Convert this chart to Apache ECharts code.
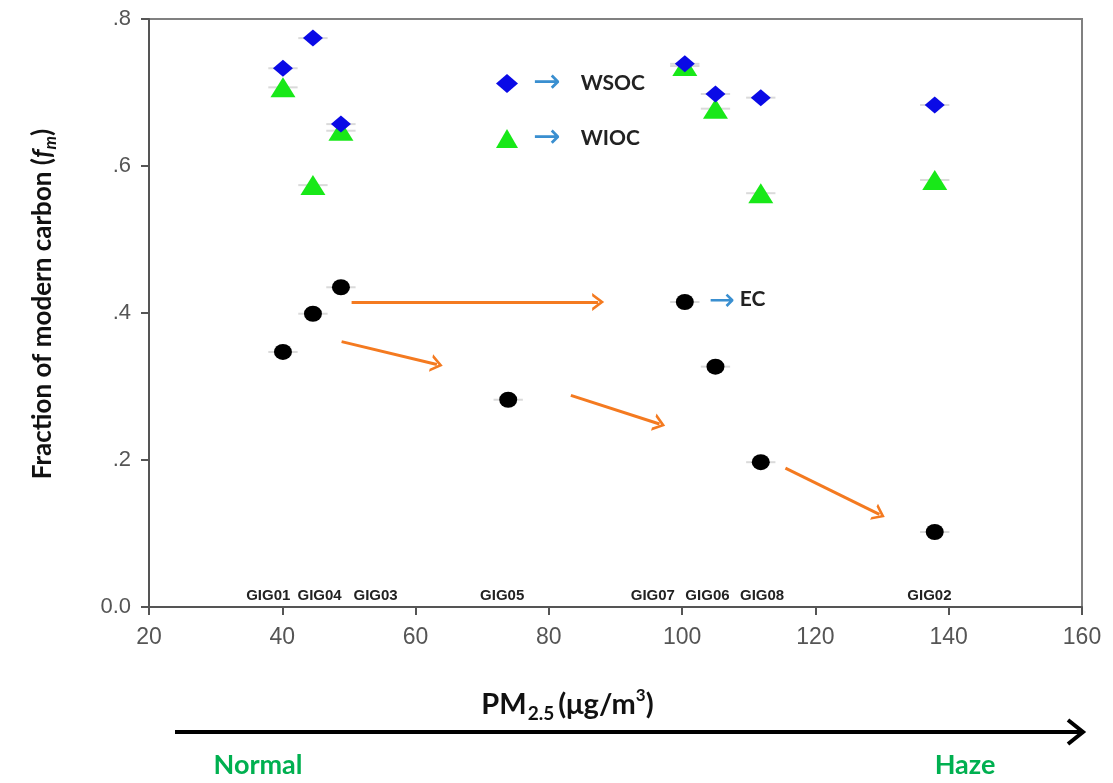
<!DOCTYPE html>
<html>
<head>
<meta charset="utf-8">
<script src="https://cdn.jsdelivr.net/npm/echarts@6/dist/echarts.min.js"></script>
<style>
  html, body { margin: 0; padding: 0; background: #fff; }
  #main { width: 1113px; height: 783px; }
</style>
</head>
<body>
<div id="main"></div>
<script>
// samples, ordered by PM2.5
var sampleNames = ['GIG01', 'GIG04', 'GIG03', 'GIG05', 'GIG07', 'GIG06', 'GIG08', 'GIG02'];
var pm25 = [40.1, 44.6, 48.8, 73.9, 100.4, 105.0, 111.8, 137.9];
var labelX = [37.9, 45.6, 54.0, 73.0, 95.6, 103.8, 112.0, 137.1];

// fraction of modern carbon
var wsoc = [0.733, 0.774, 0.657, null, 0.739, 0.698, 0.693, 0.683];
var wioc = [0.707, 0.574, 0.648, null, 0.736, 0.678, 0.563, 0.581];
var ec = [0.347, 0.399, 0.435, 0.282, 0.415, 0.327, 0.197, 0.102];
var pmErr = 2.2;

// orange trend arrows [start, end]
var trendArrows = [
    [[50.4, 0.415], [87.4, 0.415]],
    [[48.9, 0.361], [63.2, 0.330]],
    [[83.3, 0.288], [96.6, 0.249]],
    [[115.5, 0.189], [129.6, 0.126]]
];

var chevron = 'path://M0,10 L5,0 L10,10 L8.2,10 L5,3.6 L1.8,10 Z';

function pairs(vals) {
    var out = [];
    for (var i = 0; i < pm25.length; i++) {
        if (vals[i] != null) out.push([pm25[i], vals[i]]);
    }
    return out;
}

var errData = [];
[wsoc, wioc, ec].forEach(function (vals) {
    pairs(vals).forEach(function (p) { errData.push([p[0], p[1], pmErr]); });
});

var ecData = pairs(ec).map(function (p, i) {
    if (sampleNames[i] !== 'GIG07') return p;
    return {
        value: p,
        label: {
            show: true,
            position: 'right',
            distance: 15,
            formatter: '{a|→}{b|EC}',
            rich: {
                a: { fontFamily: 'DejaVu Sans', fontSize: 31, color: '#3a8fd0', padding: [0, 5, 0, 0], lineHeight: 24 },
                b: { fontFamily: 'Lato', fontWeight: 'bold', fontSize: 21, color: '#222', padding: [0, 0, 6, 0], lineHeight: 24 }
            }
        }
    };
});

var chart = echarts.init(document.getElementById('main'));

var option = {
    animation: false,
    grid: {
        left: 149, right: 31, top: 19, bottom: 176,
        show: true, borderColor: '#808080', borderWidth: 2
    },
    legend: {
        data: ['WSOC', 'WIOC'],
        orient: 'vertical',
        left: 496, top: 67,
        padding: 0,
        itemWidth: 22, itemHeight: 19,
        itemGap: 22,
        formatter: function (name) { return '{a|→}{b|' + name + '}'; },
        textStyle: {
            rich: {
                a: { fontFamily: 'DejaVu Sans', fontSize: 33, color: '#3a8fd0', padding: [0, 20, 0, 10], lineHeight: 19 },
                b: { fontFamily: 'Lato', fontWeight: 'bold', fontSize: 21, color: '#222', lineHeight: 19 }
            }
        }
    },
    xAxis: {
        type: 'value', min: 20, max: 160, interval: 20,
        name: '{m|PM}{s|2.5}{m|(μg/m}{p|3}{m|)}',
        nameLocation: 'middle',
        nameGap: 80,
        nameTextStyle: {
            padding: [0, 96, 0, 0],
            rich: {
                m: { fontFamily: 'Lato', fontWeight: 'bold', fontSize: 29, color: '#111', lineHeight: 36 },
                s: { fontFamily: 'Lato', fontWeight: 'bold', fontSize: 19, color: '#111', lineHeight: 18, verticalAlign: 'bottom', padding: [0, 4, 0, 1] },
                p: { fontFamily: 'Lato', fontWeight: 'bold', fontSize: 17, color: '#111', lineHeight: 18, verticalAlign: 'top' }
            }
        },
        axisLine: { lineStyle: { color: '#555', width: 2 } },
        axisTick: { length: 8, lineStyle: { color: '#555', width: 2 } },
        axisLabel: { fontFamily: 'Liberation Sans', fontSize: 23, color: '#555', margin: 19 },
        splitLine: { show: false }
    },
    yAxis: {
        type: 'value', min: 0, max: 0.8, interval: 0.2,
        name: '{m|Fraction of modern carbon (}{i|f}{s|m}{m|)}',
        nameLocation: 'middle',
        nameRotate: 90,
        nameGap: 90,
        nameTextStyle: {
            padding: [0, 0, 0, 18],
            rich: {
                m: { fontFamily: 'Lato', fontWeight: 'bold', fontSize: 26, color: '#111', lineHeight: 32 },
                i: { fontFamily: 'Lato', fontWeight: 'bold', fontStyle: 'italic', fontSize: 26, color: '#111', lineHeight: 32 },
                s: { fontFamily: 'Lato', fontWeight: 'bold', fontStyle: 'italic', fontSize: 17, color: '#111', lineHeight: 17, verticalAlign: 'bottom' }
            }
        },
        axisLine: { show: true, lineStyle: { color: '#555', width: 2 } },
        axisTick: { show: true, length: 8, lineStyle: { color: '#555', width: 2 } },
        axisLabel: {
            fontFamily: 'Liberation Sans', fontSize: 22, color: '#555', margin: 18,
            formatter: function (v) { return v === 0 ? '0.0' : '.' + Math.round(v * 10); }
        },
        splitLine: { show: false }
    },
    series: [
        {
            name: 'err',
            type: 'custom',
            z: 1,
            silent: true,
            encode: { x: 0, y: 1 },
            data: errData,
            renderItem: function (params, api) {
                var x = api.value(0), y = api.value(1), e = api.value(2);
                var a = api.coord([x - e, y]), b = api.coord([x + e, y]);
                return {
                    type: 'line',
                    shape: { x1: a[0], y1: a[1], x2: b[0], y2: b[1] },
                    style: { stroke: '#dadada', lineWidth: 2 }
                };
            }
        },
        {
            name: 'WIOC',
            type: 'scatter',
            z: 3,
            symbol: 'triangle',
            symbolSize: [25, 20],
            itemStyle: { color: '#18e818', opacity: 1 },
            data: pairs(wioc)
        },
        {
            name: 'WSOC',
            type: 'scatter',
            z: 4,
            symbol: 'diamond',
            symbolSize: [20, 17],
            itemStyle: { color: '#0a0ae6', opacity: 1 },
            data: pairs(wsoc)
        },
        {
            name: 'EC',
            type: 'scatter',
            z: 4,
            symbol: 'circle',
            symbolSize: [18, 16],
            itemStyle: { color: '#000', opacity: 1 },
            data: ecData,
            markLine: {
                silent: true,
                animation: false,
                symbol: ['none', chevron],
                symbolSize: [18, 12],
                label: { show: false },
                lineStyle: { color: '#f47a20', width: 3, type: 'solid' },
                data: trendArrows.map(function (a) {
                    return [{ coord: a[0] }, { coord: a[1] }];
                })
            }
        },
        {
            name: 'samples',
            type: 'scatter',
            z: 2,
            silent: true,
            symbolSize: 1,
            itemStyle: { color: 'rgba(0,0,0,0)' },
            label: {
                show: true,
                position: 'top',
                distance: 3,
                fontFamily: 'Liberation Sans',
                fontWeight: 'bold',
                fontSize: 15,
                color: '#222',
                opacity: 1,
                formatter: function (p) { return sampleNames[p.dataIndex]; }
            },
            data: labelX.map(function (x) { return [x, 0]; })
        }
    ],
    graphic: [
        { type: 'line', shape: { x1: 175, y1: 732, x2: 1082, y2: 732 }, style: { stroke: '#000', lineWidth: 4 } },
        { type: 'polyline', shape: { points: [[1068, 720], [1083, 732], [1068, 744]] }, style: { stroke: '#000', lineWidth: 4, fill: null } },
        { type: 'text', x: 258, y: 765, style: { text: 'Normal', fill: '#00b050', font: 'bold 27px Lato', textAlign: 'center', textVerticalAlign: 'middle' } },
        { type: 'text', x: 965, y: 765, style: { text: 'Haze', fill: '#00b050', font: 'bold 27px Lato', textAlign: 'center', textVerticalAlign: 'middle' } }
    ]
};

chart.setOption(option);
</script>
</body>
</html>
